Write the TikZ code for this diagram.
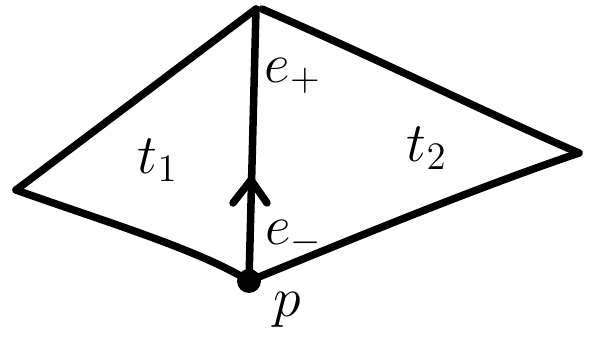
\documentclass[tikz,border=0pt]{standalone}
\newcommand{\biglab}[1]{\scalebox{2.7}{\huge$#1$}}
\begin{document}
\begin{tikzpicture}[x=1pt,y=-1pt,
  edge/.style={line width=7.5pt,line cap=round,line join=round,black},
  lab/.style={inner sep=0pt}]
\useasboundingbox (0,0) rectangle (592,344);
\coordinate (top) at (256,9);
\coordinate (left) at (16,190);
\coordinate (right) at (579,153);
\coordinate (p) at (249,281);
\coordinate (ah) at (251,180);
\coordinate (al) at (233,203);
\coordinate (ar) at (267,203);
% edges
\draw[edge] (top) -- (left);
\draw[edge] (left) .. controls (100,220) and (200,250) .. (p);
\draw[edge] (262,9) .. controls (380,60) and (480,110) .. (right);
\draw[edge] (right) .. controls (470,190) and (350,240) .. (p);
\draw[edge] (top) -- (p);
% arrow head
\draw[edge] (al) -- (ah) -- (ar);
% point p
\fill (p) circle (12);
% labels
\node[lab] (tone) at (158,160) {\biglab{t_1}};
\node[lab] (ttwo) at (427,148) {\biglab{t_2}};
\node[lab] (eplus) at (293,76) {\biglab{e_+}};
\node[lab] (eminus) at (294,238) {\biglab{e_-}};
\node[lab] (plab) at (287,310) {\biglab{p}};
\end{tikzpicture}
\end{document}
